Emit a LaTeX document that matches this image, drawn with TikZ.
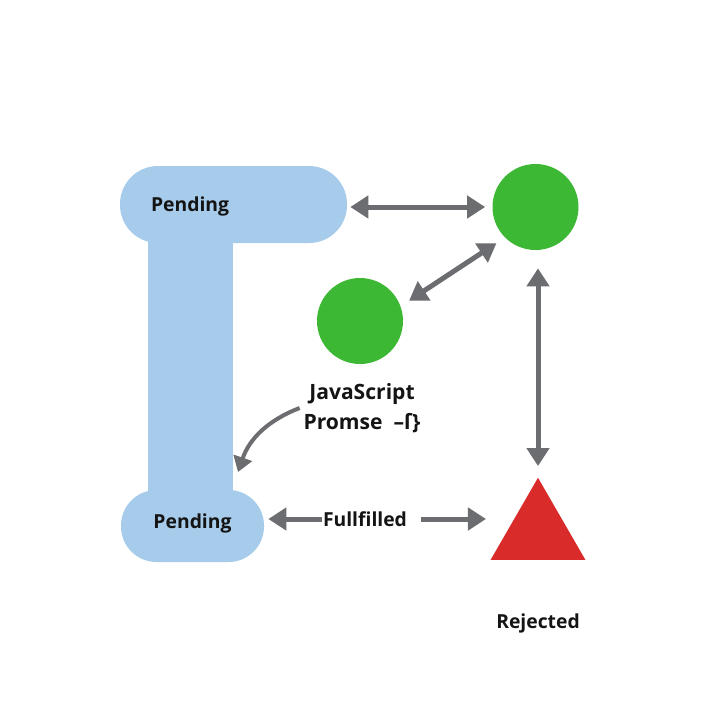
\documentclass[tikz,border=0pt]{standalone}
\usepackage{fontspec}
\setmainfont{Open Sans}[BoldFont={Open Sans Bold}]
\usetikzlibrary{arrows.meta,positioning,shapes.geometric}
\definecolor{pendblue}{HTML}{A7CBEA}
\definecolor{stategreen}{HTML}{3DB834}
\definecolor{rejred}{HTML}{D92C2A}
\definecolor{arrgray}{HTML}{6C6D70}
\definecolor{txtdark}{HTML}{141414}

\begin{document}
\begin{tikzpicture}[
  font=\fontsize{11}{14}\selectfont\bfseries, >={Triangle[length=3.6mm,width=4.4mm]},
  pend/.style={fill=pendblue, text=txtdark, inner sep=0pt},
  state/.style={circle, fill=stategreen, minimum size=17.2mm, inner sep=0pt},
  conn/.style={draw=arrgray, fill=arrgray, line width=1mm},
  lbl/.style={text=txtdark, align=center, inner sep=2pt},
]
\useasboundingbox[fill=white] (0,0) rectangle (14.4,-14.4);

% blue pending shape
\node[pend, minimum width=17mm, minimum height=54mm] (bar) at (3.81,-7.3) {};
\node[pend, rounded corners=7.6mm, minimum height=15.4mm, inner xsep=6.2mm, text width=33mm, align=left, text depth=0pt] (pendtop) at (4.67,-4.09) {Pending};
\node[pend, rounded corners=7.1mm, minimum width=28.6mm, minimum height=14.4mm, text depth=6pt] (pendbot) at (3.85,-10.52) {Pending};

% states
\node[state] (okA) at (10.71,-4.14) {};
\node[state] (okB) at (7.2,-6.42) {};
\node[regular polygon, regular polygon sides=3, fill=rejred, minimum size=21.9mm, inner sep=0pt] (tri) at (10.76,-10.65) {};

% labels
\node[lbl, font=\fontsize{12}{17}\selectfont\bfseries] (js) at (7.24,-8.16) {JavaScript\\Promse\ \ –ſ\}};
\node[lbl] (full) at (7.3,-10.38) {Fullfilled};
\node[lbl, below=10mm of tri.south] (rej) {Rejected};
\coordinate (bartip) at (4.76,-9.44);

% connectors
\draw[conn, <->, shorten <=0.6mm, shorten >=1.4mm] (okA.west -| pendtop.east) -- (okA.west);
\draw[conn, <->, shorten <=2mm, shorten >=2mm] (okB.20) -- (okA.225);
\draw[conn, <->, shorten <=3.6mm, shorten >=2.2mm] (okA.south -| tri.corner 1) -- (tri.corner 1);
\draw[conn, ->, shorten <=-0.6mm, shorten >=0.8mm] (full.west) -- (pendbot.east |- full.west);
\draw[conn, ->, shorten <=2mm, shorten >=4mm] (full.east) -- (full.east -| tri.west);
\draw[conn, fill=none, line width=0.8mm, -{Triangle[length=3mm,width=3.8mm]}] (js.west) to[bend right=25] (bartip);
\end{tikzpicture}
\end{document}
